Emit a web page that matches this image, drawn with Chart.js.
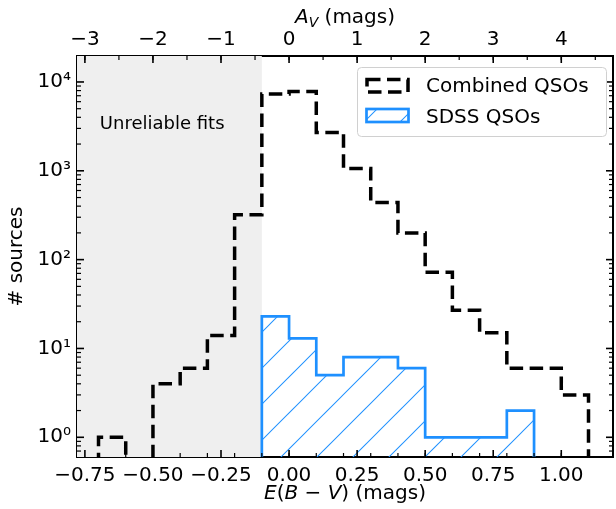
<!DOCTYPE html>
<html>
<head>
<meta charset="utf-8">
<script src="https://cdn.jsdelivr.net/npm/chart.js@4.4.1/dist/chart.umd.min.js"></script>
<style>
html, body { margin: 0; padding: 0; background: #fff; }
</style>
</head>
<body>
<canvas id="histo" width="616" height="509"></canvas>
<script>
// histogram bins (E(B-V), mags) and counts
const combinedEdges = [-0.7, -0.6, -0.5, -0.4, -0.3, -0.2, -0.1, 0.0, 0.1, 0.2, 0.3, 0.4, 0.5, 0.6, 0.7, 0.8, 0.9, 1.0, 1.1];
const combinedCounts = [1, 0, 4, 6, 14, 320, 7300, 7800, 2700, 1060, 440, 200, 72, 27, 15, 6, 6, 3];
const sdssEdges = [-0.1, 0.0, 0.1, 0.2, 0.3, 0.4, 0.5, 0.6, 0.7, 0.8, 0.9];
const sdssCounts = [23, 13, 5, 8, 8, 6, 1, 1, 1, 2];

const seriesNames = ['Combined QSOs', 'SDSS QSOs'];
const ebvTicks = [-0.75, -0.5, -0.25, 0, 0.25, 0.5, 0.75, 1.0];
const avTicks = [-3, -2, -1, 0, 1, 2, 3, 4];
const countTicks = [1, 10, 100, 1000, 10000];

const unreliableMax = -0.1;       // grey band goes up to here
const avPerEbv = 4;               // A_V = 4 E(B-V) on top axis
const xMin = -0.779, xMax = 1.19;
const yMin = 0.61, yMax = 19600;
const FLOOR = 0.1;                // stands in for 0 on log axis

const FONT = 'DejaVu Sans';
const BLUE = 'rgb(30, 144, 255)';
const SUP = ['\u2070', '\u00b9', '\u00b2', '\u00b3', '\u2074'];

function minus(s) {
    return s.replace('-', '\u2212');
}

function stepPoints(edges, counts) {
    let pts = [{x: edges[0], y: FLOOR}];
    counts.forEach((c, i) => pts.push({x: edges[i], y: Math.max(c, FLOOR)}));
    pts.push({x: edges[edges.length - 1], y: FLOOR});
    return pts;
}

// "/" hatch as a repeating tile, drawn as thin filled bands
function makeHatch() {
    let size = 36, hw = 0.7;
    let c = document.createElement('canvas');
    c.width = size;
    c.height = size;
    let g = c.getContext('2d');
    g.fillStyle = BLUE;
    [0, size, 2 * size].forEach(k => {
        // band along x + y = k
        g.beginPath();
        g.moveTo(-1, k + 1 - hw);
        g.lineTo(k + 1 - hw, -1);
        g.lineTo(k + 1 + hw, -1);
        g.lineTo(-1, k + 1 + hw);
        g.closePath();
        g.fill();
    });
    let p = document.getElementById('histo').getContext('2d').createPattern(c, 'repeat');
    p.setTransform(new DOMMatrix().translate(18, 0));
    return p;
}
const hatch = makeHatch();

// mixed roman / italic text, centred on cx
function richText(ctx, parts, cx, y) {
    let w = 0;
    parts.forEach(p => {
        ctx.font = (p.it ? 'italic ' : '') + (p.size || 20) + 'px ' + FONT;
        p.w = ctx.measureText(p.t).width;
        w += p.w;
    });
    let x = cx - w / 2;
    ctx.textAlign = 'left';
    ctx.textBaseline = 'alphabetic';
    parts.forEach(p => {
        ctx.font = (p.it ? 'italic ' : '') + (p.size || 20) + 'px ' + FONT;
        ctx.fillText(p.t, x, y + (p.dy || 0));
        x += p.w;
    });
}

const decorPlugin = {
    id: 'decor',
    beforeDatasetsDraw(chart) {
        let {ctx, chartArea: a, scales} = chart;
        let xr = scales.x.getPixelForValue(unreliableMax);
        ctx.save();
        ctx.fillStyle = '#efefef';
        ctx.fillRect(a.left, a.top, xr - a.left, a.bottom - a.top);
        ctx.fillStyle = '#000';
        ctx.font = '18px ' + FONT;
        ctx.textAlign = 'left';
        ctx.textBaseline = 'middle';
        ctx.fillText('Unreliable fits', scales.x.getPixelForValue(-0.695), scales.y.getPixelForValue(3300));
        ctx.restore();
    },
    afterDraw(chart) {
        let {ctx, chartArea: a, scales} = chart;
        ctx.save();
        ctx.strokeStyle = '#000';

        function tick(x1, y1, x2, y2, w) {
            ctx.lineWidth = w;
            ctx.beginPath();
            ctx.moveTo(x1, y1);
            ctx.lineTo(x2, y2);
            ctx.stroke();
        }
        // bottom axis
        for (let k = -7; k <= 11; k++) {
            let px = scales.x.getPixelForValue(k / 10);
            tick(px, a.bottom, px, a.bottom - 4, 1.2);
        }
        ebvTicks.forEach(v => {
            let px = scales.x.getPixelForValue(v);
            tick(px, a.bottom, px, a.bottom - 7, 1.6);
        });
        // top axis
        for (let k = -6; k <= 9; k++) {
            let px = scales.x2.getPixelForValue(k / 2);
            tick(px, a.top, px, a.top + 4, 1.2);
        }
        avTicks.forEach(v => {
            let px = scales.x2.getPixelForValue(v);
            tick(px, a.top, px, a.top + 7, 1.6);
        });
        // left and right
        for (let d = 0.1; d <= 10000; d *= 10) {
            for (let m = 2; m <= 9; m++) {
                let v = d * m;
                if (v < yMin || v > yMax) continue;
                let py = scales.y.getPixelForValue(v);
                tick(a.left, py, a.left + 4, py, 1.2);
                tick(a.right, py, a.right - 4, py, 1.2);
            }
        }
        countTicks.forEach(v => {
            let py = scales.y.getPixelForValue(v);
            tick(a.left, py, a.left + 7, py, 1.6);
            tick(a.right, py, a.right - 7, py, 1.6);
        });

        // axis titles
        ctx.fillStyle = '#000';
        richText(ctx, [
            {t: 'E', it: true}, {t: '('}, {t: 'B', it: true}, {t: ' \u2212 '},
            {t: 'V', it: true}, {t: ') (mags)'}
        ], (a.left + a.right) / 2, 499);
        richText(ctx, [
            {t: 'A', it: true}, {t: 'V', it: true, size: 14, dy: 4}, {t: ' (mags)'}
        ], (a.left + a.right) / 2, 23);
        ctx.save();
        ctx.translate(17, (a.top + a.bottom) / 2);
        ctx.rotate(-Math.PI / 2);
        ctx.font = '20px ' + FONT;
        ctx.textAlign = 'center';
        ctx.textBaseline = 'middle';
        ctx.fillText('# sources', 0, 0);
        ctx.restore();

        // legend
        let bx = 357, by = 67, bw = 249, bh = 69;
        ctx.beginPath();
        ctx.roundRect(bx + 0.5, by + 0.5, bw, bh, 4);
        ctx.fillStyle = 'rgba(255,255,255,0.8)';
        ctx.fill();
        ctx.strokeStyle = '#d0d0d0';
        ctx.lineWidth = 1;
        ctx.stroke();

        let ds = chart.data.datasets;
        ctx.setLineDash(ds[0].borderDash);
        ctx.strokeStyle = ds[0].borderColor;
        ctx.lineWidth = ds[0].borderWidth;
        ctx.strokeRect(367, 79.5, 41, 12.5);
        ctx.setLineDash([]);
        ctx.fillStyle = hatch;
        ctx.fillRect(366.5, 109, 42, 13);
        ctx.strokeStyle = ds[1].borderColor;
        ctx.lineWidth = ds[1].borderWidth;
        ctx.strokeRect(366.5, 109, 42, 13);

        ctx.fillStyle = '#000';
        ctx.font = '20px ' + FONT;
        ctx.textAlign = 'left';
        ctx.textBaseline = 'alphabetic';
        ctx.fillText(ds[0].label, 426, 92);
        ctx.fillText(ds[1].label, 426, 123);
        ctx.restore();
    }
};

const tickFont = {family: FONT, size: 20};

new Chart(document.getElementById('histo'), {
    type: 'line',
    data: {
        datasets: [{
            label: seriesNames[0],
            data: stepPoints(combinedEdges, combinedCounts),
            borderColor: '#000',
            borderWidth: 3.5,
            borderDash: [13.5, 6.5],
            stepped: true,
            fill: false,
            pointRadius: 0,
            clip: 0
        }, {
            label: seriesNames[1],
            data: stepPoints(sdssEdges, sdssCounts),
            borderColor: BLUE,
            borderWidth: 2.7,
            backgroundColor: hatch,
            stepped: true,
            fill: 'start',
            pointRadius: 0,
            clip: 0
        }]
    },
    options: {
        responsive: false,
        animation: false,
        devicePixelRatio: 1,
        layout: {padding: 0},
        plugins: {legend: {display: false}, tooltip: {enabled: false}},
        scales: {
            x: {
                type: 'linear', position: 'bottom', min: xMin, max: xMax, z: 1,
                grid: {display: false, drawTicks: false},
                border: {display: true, color: '#000', width: 2},
                ticks: {padding: 7, color: '#000', font: tickFont, autoSkip: false, maxRotation: 0,
                    callback: v => minus(v.toFixed(2))},
                afterBuildTicks: s => { s.ticks = ebvTicks.map(v => ({value: v})); },
                afterFit: s => { s.height = 52; }
            },
            x2: {
                type: 'linear', position: 'top', min: xMin * avPerEbv, max: xMax * avPerEbv, z: 1,
                grid: {display: false, drawTicks: false},
                border: {display: true, color: '#000', width: 2},
                ticks: {padding: 4, color: '#000', font: tickFont, autoSkip: false, maxRotation: 0,
                    callback: v => minus(String(v))},
                afterBuildTicks: s => { s.ticks = avTicks.map(v => ({value: v})); },
                afterFit: s => { s.height = 56; }
            },
            y: {
                type: 'logarithmic', position: 'left', min: yMin, max: yMax, z: 1,
                grid: {display: false, drawTicks: false},
                border: {display: true, color: '#000', width: 2},
                ticks: {padding: 6, color: '#000', font: tickFont, autoSkip: false,
                    callback: v => '10' + SUP[Math.round(Math.log10(v))]},
                afterBuildTicks: s => { s.ticks = countTicks.map(v => ({value: v})); },
                afterFit: s => { s.width = 77; }
            },
            y2: {
                type: 'logarithmic', position: 'right', min: yMin, max: yMax, z: 1,
                grid: {display: false, drawTicks: false},
                border: {display: true, color: '#000', width: 2},
                ticks: {display: false},
                afterFit: s => { s.width = 3; }
            }
        }
    },
    plugins: [decorPlugin]
});
</script>
</body>
</html>
